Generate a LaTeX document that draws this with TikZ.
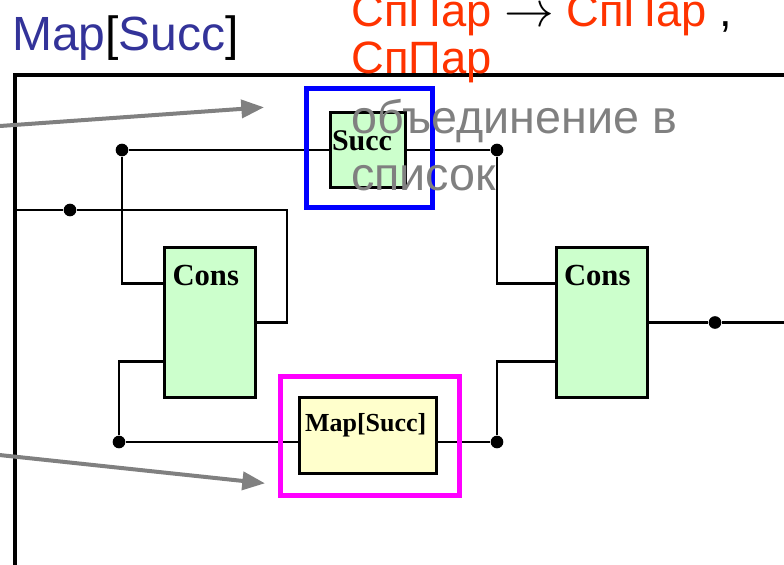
\documentclass[tikz,border=0pt]{standalone}
\usepackage{fontspec}
\setmainfont{Liberation Serif}
\setsansfont{Liberation Sans}
\usepackage{xcolor}
\usepackage{graphicx}
\usetikzlibrary{arrows.meta,positioning}

\definecolor{consgreen}{HTML}{CCFFCC}
\definecolor{mapyellow}{HTML}{FFFFCC}
\definecolor{titleblue}{HTML}{333399}
\definecolor{notered}{HTML}{FF3300}
\definecolor{notegray}{HTML}{808080}
\definecolor{hlblue}{HTML}{0000FF}
\definecolor{hlpink}{HTML}{FF00FF}
\newcommand{\bigto}{{\fontsize{24.88}{24.88}\selectfont\scalebox{1.5}{$\rightarrow$}}}

\begin{document}
\begin{tikzpicture}[
  x=0.75pt, y=-0.75pt,
  box/.style={draw=black, line width=2.25pt, inner ysep=0pt, align=left},
  cons/.style={box, fill=consgreen, font=\fontsize{23}{23}\selectfont\bfseries,
               text width=56.25pt, inner xsep=6pt, text height=28.5pt, text depth=84pt},
  succbox/.style={box, fill=consgreen, font=\fontsize{22.5}{22.5}\selectfont\bfseries,
               text width=53.25pt, inner xsep=1.5pt, text height=28.5pt, text depth=27.75pt},
  mapbox/.style={box, fill=mapyellow, font=\fontsize{19.5}{19.5}\selectfont\bfseries,
               text width=93.75pt, inner xsep=4.5pt, text height=25.5pt, text depth=31.5pt},
  hl/.style={line width=3.75pt, inner sep=0pt, minimum height=89.25pt},
  dot/.style={circle, fill=black, inner sep=0pt, minimum size=9.5pt},
  wire/.style={line width=2.1pt},
  ptr/.style={draw=notegray, line width=3pt, -{Triangle[length=17pt, width=13.5pt]}},
  note/.style={anchor=base west, inner sep=0pt, align=left}
]
\useasboundingbox (0,0) rectangle (784,564);
\clip (0,0) rectangle (784,564);
% --- outer frame ---
\draw[line width=3pt] (800,75) -| (15,580);
% --- junctions ---
\node[dot] (j1) at (122,150) {};
\node[dot] (j2) at (70,210) {};
\node[dot] (j3) at (497,150) {};
\node[dot] (j4) at (119,442) {};
\node[dot] (j5) at (497,442) {};
\node[dot] (j6) at (715,322.5) {};
\coordinate (in) at (15,210);
\coordinate (out) at (800,322.5);
% --- function boxes ---
\node[cons] (cons1) at (210,322.5) {Cons};
\node[cons] (cons2) at (601.5,322.5) {Cons};
\node[succbox] (succ) at (367.5,150) {Succ};
\node[mapbox] (map) at (367.5,435) {Map[Succ]};
% --- wires ---
\draw[wire] (j1) -- (succ);
\draw[wire] (succ) -- (j3);
\draw[wire] (j1) |- ([yshift=29pt]cons1.west);
\draw[wire] (j3) |- ([yshift=29pt]cons2.west);
\draw[wire] (in) -- (j2) -| ([xshift=22.5pt]cons1.east) -- (cons1.east);
\draw[wire] (j4) |- ([yshift=-29pt]cons1.west);
\draw[wire] (j4) -- (map.west |- j4);
\draw[wire] (map.east |- j5) -- (j5);
\draw[wire] (j5) |- ([yshift=-29pt]cons2.west);
\draw[wire] (cons2) -- (j6) -- (out);
% --- highlights ---
\node[hl, draw=hlblue, minimum width=94.5pt] (hlsucc) at (369,147.5) {};
\node[hl, draw=hlpink, minimum width=134.25pt] (hlmap) at (369.5,435.5) {};
% --- notes ---
\coordinate (p1) at (-10,126.7);
\coordinate (p1tip) at (264,107.3);
\coordinate (p2) at (-10,454);
\coordinate (p2tip) at (265,483.3);
\draw[ptr] (p1) -- (p1tip);
\draw[ptr] (p2) -- (p2tip);
\node[note, font=\sffamily\fontsize{36}{36}\selectfont] (title) at (12,50)
  {\textcolor{titleblue}{Map}[\textcolor{titleblue}{Succ}]};
\node[note, text=notered, font=\sffamily\fontsize{34}{35.25}\selectfont] (sig) at (351,73)
  {СпПар \textcolor{black}{\bigto} СпПар \textcolor{black}{,}\\ СпПар};
\node[note, text=notegray, font=\sffamily\fontsize{35}{42.75}\selectfont] (merge) at (351,190)
  {объединение в\\ список};
\end{tikzpicture}
\end{document}
